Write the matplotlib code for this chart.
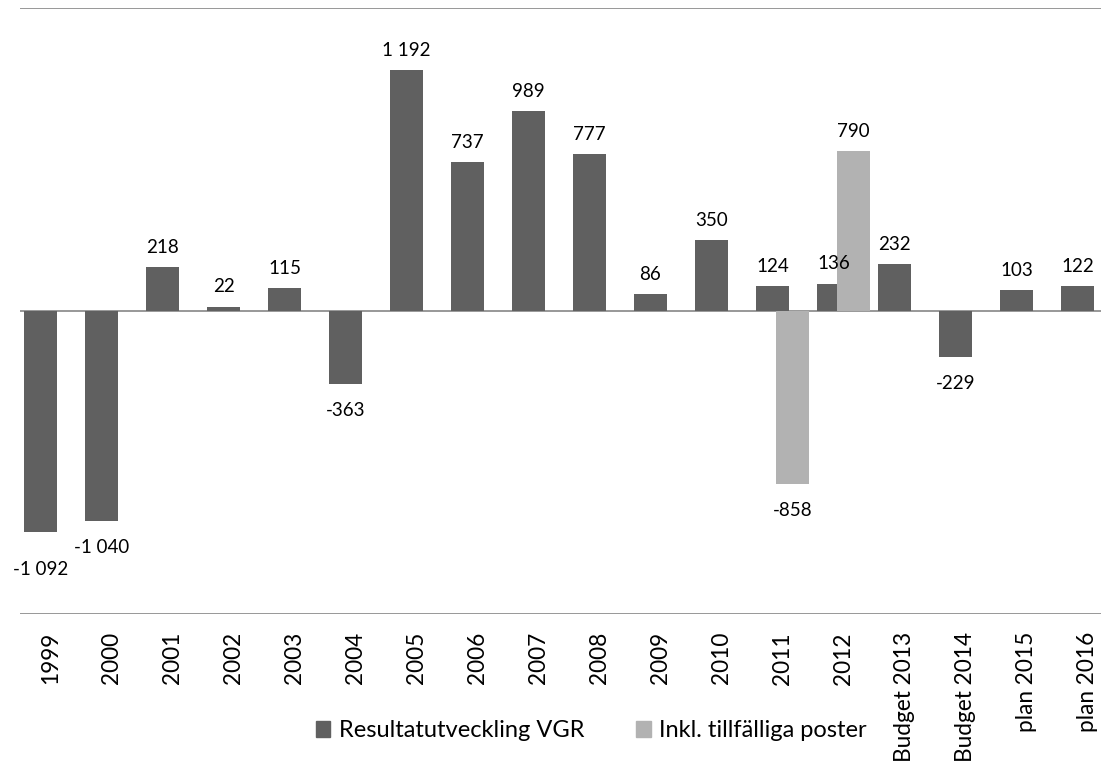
import matplotlib.pyplot as plt
import numpy as np
from matplotlib.patches import Patch

plt.rcParams['font.family'] = ['Lato', 'DejaVu Sans']

categories = ['1999', '2000', '2001', '2002', '2003', '2004', '2005', '2006', '2007',
              '2008', '2009', '2010', '2011', '2012', 'Budget 2013', 'Budget 2014',
              'plan 2015', 'plan 2016']
resultat = [-1092, -1040, 218, 22, 115, -363, 1192, 737, 989, 777, 86, 350, 124, 136,
            232, -229, 103, 122]
# second series only has values for 2011 and 2012
tillfalliga = [None] * 12 + [-858, 790] + [None] * 4

DARK = '#606060'
LIGHT = '#b2b2b2'
LINE = '#868686'


def fmt(v):
    return f'{v:,}'.replace(',', ' ')


def label(xi, v, extra=0):
    dy = 8 if v > 0 else -13 - extra
    ax.annotate(fmt(v), (xi, v), xytext=(0, dy),
                textcoords='offset points', ha='center',
                va='bottom' if v > 0 else 'top', fontsize=13.5, zorder=5)


fig = plt.figure(figsize=(11.01, 7.67), dpi=100)
ax = fig.add_axes([20 / 1101, 153 / 767, 1098 / 1101, 606 / 767])

x = np.arange(len(categories))
off = 0.164
w = 0.557

ax.bar(x - off, resultat, width=w, color=DARK, zorder=2)
xs = [xi + off for xi, v in zip(x, tillfalliga) if v is not None]
vs = [v for v in tillfalliga if v is not None]
ax.bar(xs, vs, width=w, color=LIGHT, zorder=3)

for i, (xi, v) in enumerate(zip(x, resultat)):
    # first label is pushed down so it doesn't collide with the 2000 one
    label(xi - off, v, extra=8 if i == 0 else 0)
for xi, v in zip(xs, vs):
    label(xi, v)

ax.axhline(0, color=LINE, lw=1.2, zorder=1)
ax.axhline(1500, color=LINE, lw=1.2, zorder=1)
ax.axhline(-1500, color=LINE, lw=1.2, zorder=1)

ax.set_xlim(-0.5, 17.5)
ax.set_ylim(-1500, 1500)
for s in ax.spines.values():
    s.set_visible(False)
ax.set_yticks([])
ax.set_xticks(x)
ax.set_xticklabels(categories, rotation=90, va='top', fontsize=16.3)
ax.tick_params(axis='x', length=0, pad=13)

handles = [Patch(color=DARK, label='Resultatutveckling VGR'),
           Patch(color=LIGHT, label='Inkl. tillfälliga poster')]
fig.legend(handles=handles, loc='center', bbox_to_anchor=(0.537, 0.047), ncol=2,
           frameon=False, fontsize=17, handlelength=0.62, handleheight=0.62,
           handletextpad=0.35, columnspacing=2.2)

fig.savefig('out.png', dpi=100)
